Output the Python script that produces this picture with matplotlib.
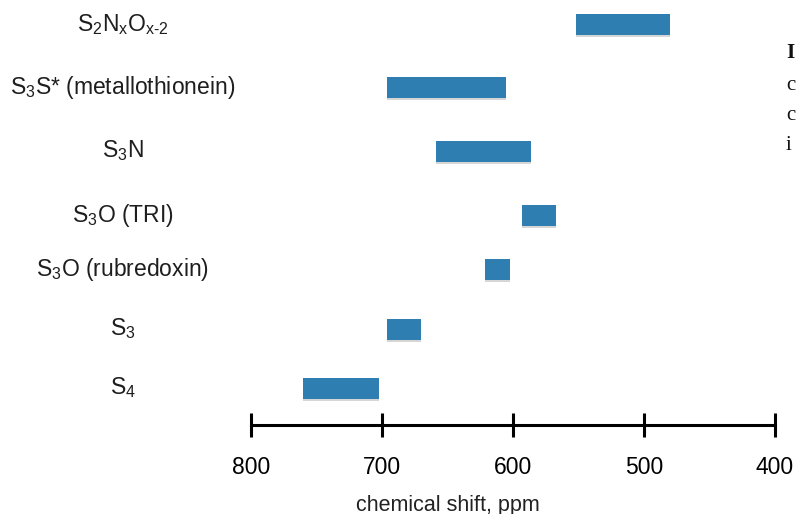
import numpy as np
import matplotlib
matplotlib.use("Agg")
import matplotlib.pyplot as plt
import matplotlib.patheffects as pe

plt.rcParams['font.family'] = ['Liberation Sans', 'DejaVu Sans']
plt.rcParams['mathtext.fontset'] = 'custom'
plt.rcParams['mathtext.rm'] = 'Liberation Sans'
plt.rcParams['mathtext.it'] = 'Liberation Sans'

# ---------- datos: rangos de desplazamiento químico (ppm) ----------
sites = [
    r"S$_\mathregular{2}$N$_\mathregular{x}$O$_\mathregular{x\text{-}2}$",
    r"S$_\mathregular{3}$S* (metallothionein)",
    r"S$_\mathregular{3}$N",
    r"S$_\mathregular{3}$O (TRI)",
    r"S$_\mathregular{3}$O (rubredoxin)",
    r"S$_\mathregular{3}$",
    r"S$_\mathregular{4}$",
]
shift_high = [552, 696, 659, 593, 621, 696, 760]
shift_low = [480, 605, 586, 567, 602, 670, 702]

ticks = [800, 700, 600, 500, 400]

# posiciones verticales de cada fila (en px desde arriba)
row_y = [24.5, 87.5, 151, 215, 269.5, 329, 388]
BAR_H = 21
BAR_COLOR = '#2e7eb2'

W, H = 796, 514
fig = plt.figure(figsize=(W / 100, H / 100), dpi=100)
ax = fig.add_axes([251 / W, 0, 524 / W, 1])
ax.set_xlim(800, 400)
ax.set_ylim(H, 0)

shadow = [pe.SimplePatchShadow(offset=(0.0, -1.5), shadow_rgbFace='0.55', alpha=0.35),
          pe.Normal()]
for y, hi, lo in zip(row_y, shift_high, shift_low):
    ax.barh(y, lo - hi, left=hi, height=BAR_H, color=BAR_COLOR,
            path_effects=shadow, zorder=3)

for lab, y in zip(sites, row_y):
    fig.text(123 / W, 1 - y / H, lab, ha='center', va='center',
             fontsize=16.5, color='#1e1e1e')

# eje x como una línea gruesa con marcas
for s in ['top', 'left', 'right']:
    ax.spines[s].set_visible(False)
ax.spines['bottom'].set_position(('data', 425))
ax.spines['bottom'].set_linewidth(2.2)
ax.spines['bottom'].set_bounds(800, 400)
ax.set_yticks([])
ax.set_xticks(ticks)
ax.set_xticklabels([str(t) for t in ticks])
ax.tick_params(axis='x', direction='inout', length=17, width=2.2,
               pad=14, labelsize=16.5, colors='black')

fig.text(448 / W, 1 - 505 / H, 'chemical shift, ppm', ha='center', va='center',
         fontsize=15.5, color='#222222')

# texto del pie cortado en el borde derecho
for ch, y, w in [('I', 53, 'bold'), ('c', 86, 'normal'), ('c', 115, 'normal'), ('i', 145, 'normal')]:
    fig.text(786 / W, 1 - y / H, ch, ha='left', va='center', fontsize=15,
             family='Liberation Serif', fontweight=w, color='#111111')

fig.savefig('out.png', dpi=100)
